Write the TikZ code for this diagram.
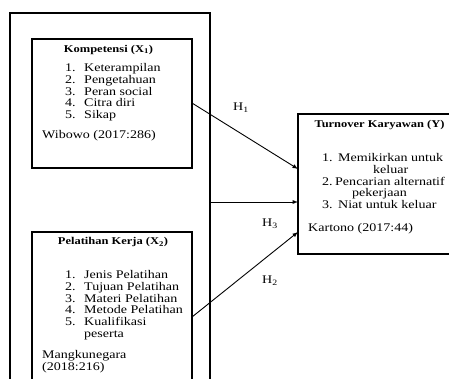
\documentclass[tikz,border=0pt]{standalone}
\usepackage{fontspec}
\setmainfont[FakeStretch=1.2]{Liberation Serif}
\usetikzlibrary{positioning}
\newcommand{\bodyfont}{\fontsize{11.7}{11.8}\selectfont}
\newcommand{\titlefont}{\fontsize{10.4}{11}\selectfont\bfseries}
\tikzset{
  box/.style={draw,line width=1.5pt,inner sep=0pt},
  txt/.style={inner sep=0pt,font=\bodyfont},
  hyp/.style={-latex,line width=0.9pt},
}
\begin{document}
\begin{tikzpicture}[x=1pt,y=-1pt]
        \useasboundingbox (0,0) rectangle (449,379);
        %% Outer frame (open below)
        \draw[line width=2pt] (10,379) |- (210,13) -- (210,379);
        %% Kompetensi box
        \node[box,minimum width=160pt,minimum height=129pt] (kompetensi) at (112,103.5) {};
        \node[txt,font=\titlefont] (komTitle) at (108.5,50) {Kompetensi (X\textsubscript{1})};
        \node[txt,anchor=base west] (komList) at (65,71.5) {\begin{tabular}[t]{@{}p{19pt}@{}l@{}}
          1. & Keterampilan\\ 2. & Pengetahuan\\ 3. & Peran social\\ 4. & Citra diri\\ 5. & Sikap
        \end{tabular}};
        \node[txt,anchor=base west] (komRef) at (42,138.5) {Wibowo (2017:286)};
        %% Pelatihan box (open below)
        \draw[line width=1.5pt] (32,379) |- (192,232) -- (192,379);
        \node[txt,font=\titlefont] (pelTitle) at (113,242) {Pelatihan Kerja (X\textsubscript{2})};
        \node[txt,anchor=base west] (pelList) at (65,278.5) {\begin{tabular}[t]{@{}p{19pt}@{}l@{}}
          1. & Jenis Pelatihan\\ 2. & Tujuan Pelatihan\\ 3. & Materi Pelatihan\\ 4. & Metode Pelatihan\\
          5. & Kualifikasi\\ & peserta
        \end{tabular}};
        \node[txt,anchor=base west] (pelRef) at (42,358.5) {\begin{tabular}[t]{@{}l@{}}Mangkunegara\\(2018:216)\end{tabular}};
        %% Turnover box (runs off the right edge)
        \draw[line width=1.5pt] (449,114) -| (298,254) -- (449,254);
        \node[txt,font=\titlefont] (turTitle) at (379.5,125) {Turnover Karyawan (Y)};
        \node[txt,anchor=base west] (turList) at (322,161.5) {\begin{tabular}[t]{@{}p{16pt}@{}l@{}}
          1. & Memikirkan untuk\\ & \hspace{35pt}keluar\\ 2. & \hspace{-3pt}Pencarian alternatif\\
          & \hspace{14pt}pekerjaan\\ 3. & Niat untuk keluar
        \end{tabular}};
        \node[txt,anchor=base west] (turRef) at (308,231.5) {Kartono (2017:44)};
        %% Hypotheses
        \coordinate (y1in) at (298,169);
        \coordinate (y3in) at (298,202);
        \coordinate (y2in) at (298,232);
        \coordinate (x3out) at (210,202);
        \coordinate (x2out) at (192,317);
        \draw[hyp] (kompetensi.east) -- (y1in);
        \draw[hyp] (x3out) -- (y3in);
        \draw[hyp] (x2out) -- (y2in);
        \node[txt] (h1) at (241,108) {H\textsubscript{1}};
        \node[txt] (h3) at (270,224) {H\textsubscript{3}};
        \node[txt] (h2) at (270,281) {H\textsubscript{2}};
\end{tikzpicture}
\end{document}
